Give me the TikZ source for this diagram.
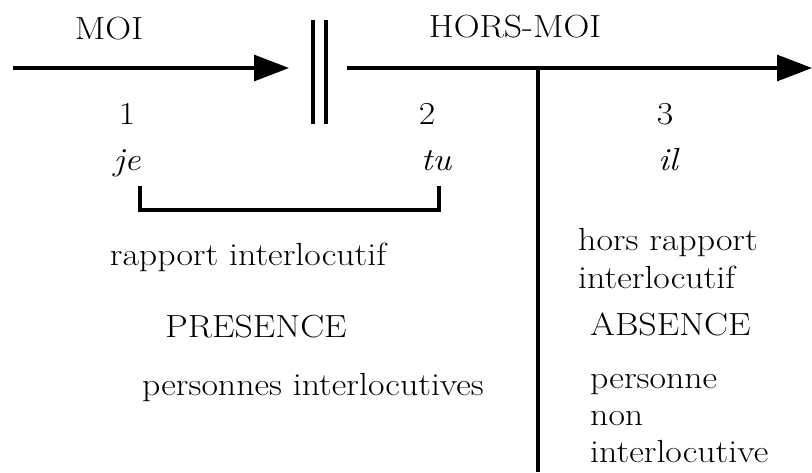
\documentclass[tikz,border=0pt]{standalone}
\usepackage{fontspec}
\setmainfont{Latin Modern Roman}[FakeStretch=1.12]
\usetikzlibrary{arrows.meta}
\begin{document}
\begin{tikzpicture}[x=1pt,y=-1pt,
  txt/.style={inner sep=0pt,font=\fontsize{32}{36}\selectfont},
  itxt/.style={txt,font=\fontsize{32}{36}\selectfont\itshape},
  axis/.style={line width=3.1pt},
  arr/.style={axis,-{Triangle[length=35pt,width=26pt]}}]
\useasboundingbox (0,0) rectangle (812,472);
% coordinates
\coordinate (aL) at (13,68);
\coordinate (aLt) at (289,68);
\coordinate (aR) at (347,68);
\coordinate (aRt) at (812,68);
\coordinate (b1t) at (313,20);
\coordinate (b1b) at (313,124);
\coordinate (b2t) at (326,20);
\coordinate (b2b) at (326,124);
\coordinate (vT) at (538,68);
\coordinate (vB) at (538,472);
\coordinate (brL) at (140,186);
\coordinate (brR) at (439,186);
% lines
\draw[arr] (aL) -- (aLt);
\draw[arr] (aR) -- (aRt);
\draw[axis] (b1t) -- (b1b);
\draw[axis] (b2t) -- (b2b);
\draw[axis] (vT) -- (vB);
\draw[axis] (brL) -- ++(0,24) -| (brR);
% texts
\node[txt,anchor=base] (moi) at (109,39) {MOI};
\node[txt,anchor=base] (hmoi) at (515,37) {HORS-MOI};
\node[txt,anchor=base] (n1) at (127,124) {1};
\node[txt,anchor=base] (n2) at (427,124) {2};
\node[txt,anchor=base] (n3) at (665,124) {3};
\node[itxt,anchor=base] (je) at (127,170) {je};
\node[itxt,anchor=base] (tu) at (436,170) {tu};
\node[itxt,anchor=base] (il) at (668,170) {il};
\node[txt,anchor=base] (rap) at (248,265) {rapport interlocutif};
\node[txt,anchor=base] (pres) at (256,337) {PRESENCE};
\node[txt,anchor=base] (pers) at (313,395) {personnes interlocutives};
\node[txt,anchor=base west] (hr1) at (578,250) {hors rapport};
\node[txt,anchor=base west] (hr2) at (578,288) {interlocutif};
\node[txt,anchor=base west] (abs) at (590,335) {ABSENCE};
\node[txt,anchor=base west] (pn1) at (590,388) {personne};
\node[txt,anchor=base west] (pn2) at (590,425) {non};
\node[txt,anchor=base west] (pn3) at (590,462) {interlocutive};
\end{tikzpicture}
\end{document}
